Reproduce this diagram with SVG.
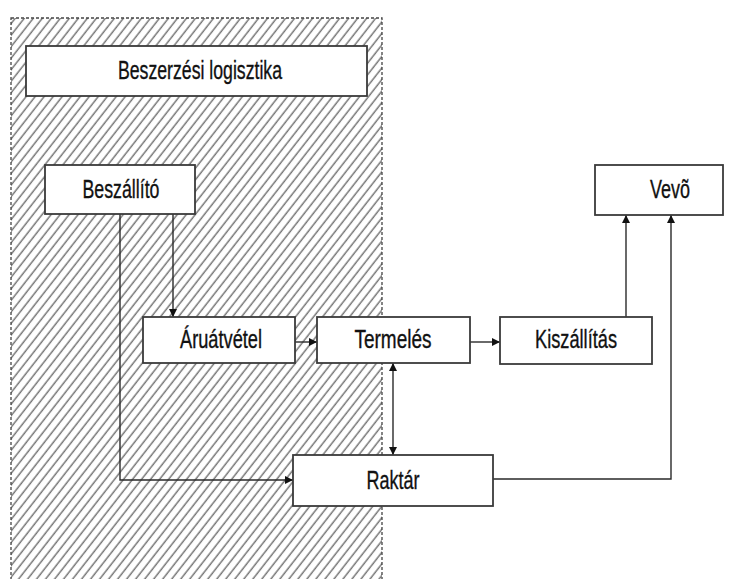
<svg xmlns="http://www.w3.org/2000/svg" width="737" height="579" viewBox="0 0 737 579">
<style>
.box{fill:#fff;stroke:#3a3a3a;stroke-width:1.8}
.lbl{font-family:"Liberation Sans",Arial,sans-serif;font-size:25px;fill:#111;stroke:#111;stroke-width:0.35;text-anchor:middle}
.con{fill:none;stroke:#2a2a2a;stroke-width:1.4}
</style>
<defs>
<pattern id="hatch" patternUnits="userSpaceOnUse" width="7.1" height="7.1" patternTransform="rotate(38)">
<line x1="2" y1="0" x2="2" y2="7.1" stroke="#777" stroke-width="1.5"/>
</pattern>
<marker id="ah" viewBox="0 0 10 10" refX="10" refY="5" markerWidth="9" markerHeight="8" markerUnits="userSpaceOnUse" orient="auto-start-reverse">
<path d="M0,0 L10,5 L0,10 z" fill="#111"/>
</marker>
</defs>
<rect width="737" height="579" fill="#fff"/>
<g id="region">
<rect x="11" y="18" width="371" height="570" fill="url(#hatch)" stroke="#444" stroke-width="1.3" stroke-dasharray="3 2"/>
</g>
<g id="connectors">
<path class="con" d="M173,214 V317" marker-end="url(#ah)"/>
<path class="con" d="M120,214 V480 H293" marker-end="url(#ah)"/>
<path class="con" d="M295,342 H317" marker-end="url(#ah)"/>
<path class="con" d="M470,342 H500" marker-end="url(#ah)"/>
<path class="con" d="M393,363 V455" marker-start="url(#ah)" marker-end="url(#ah)"/>
<path class="con" d="M626,317 V215" marker-end="url(#ah)"/>
<path class="con" d="M493,479 H671 V215" marker-end="url(#ah)"/>
</g>
<g id="n-beszerzesi">
<rect class="box" x="26" y="46" width="341" height="50"/>
<text class="lbl" x="200" y="79" textLength="164" lengthAdjust="spacingAndGlyphs">Beszerzési logisztika</text>
</g>
<g id="n-beszallito">
<rect class="box" x="45" y="165" width="150" height="49"/>
<text class="lbl" x="121" y="198" textLength="77" lengthAdjust="spacingAndGlyphs">Beszállító</text>
</g>
<g id="n-aruatvetel">
<rect class="box" x="143" y="317" width="152" height="46"/>
<text class="lbl" x="221" y="348" textLength="82" lengthAdjust="spacingAndGlyphs">Áruátvétel</text>
</g>
<g id="n-termeles">
<rect class="box" x="317" y="317" width="153" height="46"/>
<text class="lbl" x="393" y="348" textLength="77" lengthAdjust="spacingAndGlyphs">Termelés</text>
</g>
<g id="n-kiszallitas">
<rect class="box" x="500" y="317" width="152" height="47"/>
<text class="lbl" x="576" y="348" textLength="82" lengthAdjust="spacingAndGlyphs">Kiszállítás</text>
</g>
<g id="n-vevo">
<rect class="box" x="595" y="165" width="128" height="50"/>
<text class="lbl" x="670" y="198" textLength="40" lengthAdjust="spacingAndGlyphs">Vevõ</text>
</g>
<g id="n-raktar">
<rect class="box" x="293" y="455" width="200" height="51"/>
<text class="lbl" x="393" y="489" textLength="53" lengthAdjust="spacingAndGlyphs">Raktár</text>
</g>
</svg>
